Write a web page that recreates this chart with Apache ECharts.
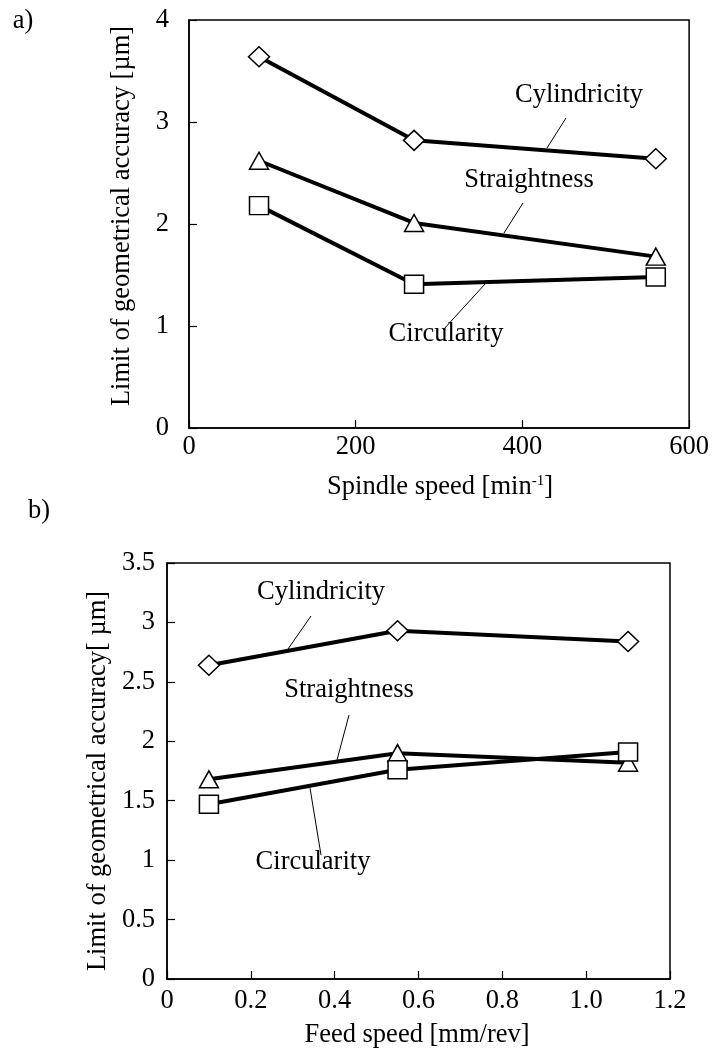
<!DOCTYPE html>
<html>
<head>
<meta charset="utf-8">
<script src="https://cdn.jsdelivr.net/npm/echarts@6/dist/echarts.min.js"></script>
<style>
html,body{margin:0;padding:0;background:#fff;}
#c{width:712px;height:1053px;}
</style>
</head>
<body>
<div id="c"></div>
<script>
// ---- Data ----
const speedA = [84, 270, 560];          // spindle speed [min^-1]
const cylA = [3.64, 2.82, 2.64];
const strA = [2.62, 2.01, 1.68];
const cirA = [2.18, 1.41, 1.48];

const feedB = [0.1, 0.55, 1.1];         // feed speed [mm/rev]
const cylB = [2.64, 2.93, 2.84];
const strB = [1.68, 1.90, 1.82];
const cirB = [1.47, 1.76, 1.91];

const seriesNames = ['Cylindricity', 'Straightness', 'Circularity'];
const xTitleA = 'Spindle speed [min{s|-1}]';
const xTitleB = 'Feed speed [mm/rev]';
const yTitleA = 'Limit of geometrical accuracy [µm]';
const yTitleB = 'Limit of geometrical accuracy[ µm]';

// ---- Styling ----
const FONT = '"Liberation Serif", "Times New Roman", serif';
const FS = 26.5;
const symbols = {
  'Cylindricity': {symbol: 'diamond', size: [21, 20]},
  'Straightness': {symbol: 'triangle', size: [19, 17]},
  'Circularity': {symbol: 'rect', size: [19, 18]}
};
function zip(xs, ys) { return xs.map((x, i) => [x, ys[i]]); }
function mkSeries(name, xs, ys, gi) {
  return {
    name: name, type: 'line', xAxisIndex: gi, yAxisIndex: gi,
    data: zip(xs, ys),
    symbol: symbols[name].symbol, symbolSize: symbols[name].size,
    showAllSymbol: true,
    itemStyle: {color: '#fff', borderColor: '#000', borderWidth: 1.5},
    lineStyle: {color: '#000', width: 4},
    emphasis: {disabled: true},
    animation: false
  };
}
const axisCommon = {
  type: 'value',
  axisLine: {show: true, lineStyle: {color: '#000', width: 1.5}},
  axisTick: {show: true, inside: true, length: 8, lineStyle: {color: '#000', width: 1.2}},
  splitLine: {show: false},
  axisLabel: {color: '#000', fontSize: FS, fontFamily: FONT}
};
function txt(text, x, y, extra) {
  return Object.assign({
    type: 'text', x: x, y: y, silent: true,
    style: {text: text, fill: '#000', fontSize: FS, fontFamily: FONT, align: 'center', verticalAlign: 'middle'}
  }, extra || {});
}
function ln(x1, y1, x2, y2) {
  return {type: 'line', silent: true, shape: {x1: x1, y1: y1, x2: x2, y2: y2}, style: {stroke: '#000', lineWidth: 1}};
}

const chart = echarts.init(document.getElementById('c'), null, {renderer: 'canvas'});
chart.setOption({
  backgroundColor: '#fff',
  animation: false,
  grid: [
    {left: 189, top: 20, width: 503, height: 408, show: true, borderColor: '#000', borderWidth: 1.5, backgroundColor: 'transparent'},
    {left: 167, top: 563, width: 503, height: 416, show: true, borderColor: '#000', borderWidth: 1.5, backgroundColor: 'transparent'}
  ],
  xAxis: [
    Object.assign({}, axisCommon, {gridIndex: 0, min: 0, max: 600, interval: 200,
      axisLabel: Object.assign({}, axisCommon.axisLabel, {margin: 6})}),
    Object.assign({}, axisCommon, {gridIndex: 1, min: 0, max: 1.2, interval: 0.2,
      axisLabel: Object.assign({}, axisCommon.axisLabel, {margin: 9,
        formatter: v => (Math.abs(v) < 1e-9 ? '0' : v.toFixed(1))})})
  ],
  yAxis: [
    Object.assign({}, axisCommon, {gridIndex: 0, min: 0, max: 4, interval: 1,
      axisLabel: Object.assign({}, axisCommon.axisLabel, {margin: 20})}),
    Object.assign({}, axisCommon, {gridIndex: 1, min: 0, max: 3.5, interval: 0.5,
      axisLabel: Object.assign({}, axisCommon.axisLabel, {margin: 12})})
  ],
  series: [
    mkSeries('Cylindricity', speedA, cylA, 0),
    mkSeries('Straightness', speedA, strA, 0),
    mkSeries('Circularity', speedA, cirA, 0),
    mkSeries('Cylindricity', feedB, cylB, 1),
    mkSeries('Straightness', feedB, strB, 1),
    mkSeries('Circularity', feedB, cirB, 1)
  ],
  graphic: [
    txt('a)', 23, 21),
    txt('b)', 39, 511),
    txt(yTitleA, 122, 216, {rotation: Math.PI / 2}),
    txt(yTitleB, 98, 781, {rotation: Math.PI / 2}),
    {type: 'text', x: 440, y: 487, silent: true,
      style: {text: xTitleA, fill: '#000', fontSize: FS, fontFamily: FONT, align: 'center', verticalAlign: 'middle',
        rich: {s: {fontSize: 15, fontFamily: FONT, fill: '#000', verticalAlign: 'top', padding: [0, 0, 12, 0]}}}},
    txt(xTitleB, 417, 1035),
    // annotations, chart a
    txt(seriesNames[0], 579, 95),
    ln(566, 118, 547, 148),
    txt(seriesNames[1], 529, 180),
    ln(523, 203, 504, 233),
    txt(seriesNames[2], 446, 334),
    ln(486, 283, 443, 330),
    // annotations, chart b
    txt(seriesNames[0], 321, 592),
    ln(311, 616, 288, 649),
    txt(seriesNames[1], 349, 690),
    ln(349, 715, 337, 760),
    txt(seriesNames[2], 313, 862),
    ln(310, 788, 321, 855)
  ]
});
</script>
</body>
</html>
